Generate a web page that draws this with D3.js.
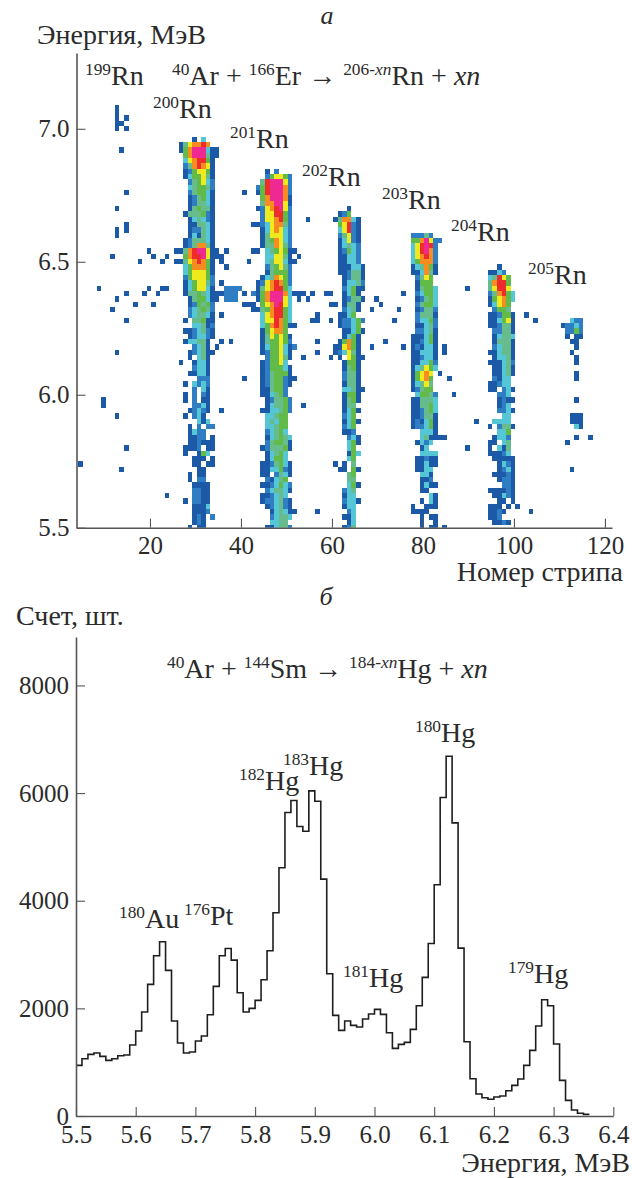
<!DOCTYPE html>
<html>
<head>
<meta charset="utf-8">
<script src="https://cdn.jsdelivr.net/npm/d3@7"></script>
<style>
  html, body { margin: 0; padding: 0; background: #fff; }
  text { font-family: "Liberation Serif", serif; fill: #2b2b2b; }
</style>
</head>
<body>
<div id="chart"></div>
<script>
////////////////////////////////////////////////////////////////////////
// Panel a data: counts per strip and energy, as colour levels 1-9.
// Every band lists rows from its top energy down in 0.02 MeV steps,
// the first character of a row is the band's first strip, "." is empty.

let heatLevels = [1, 2, 3, 4, 5, 6, 7, 8, 9];
let heatColors = ["#1c5aa8", "#2f7dc2", "#55c6d6", "#66bc8c", "#62bb48",
                  "#eeea1e", "#f78d20", "#ee2c2c", "#ee2a92"];

let band200Strip = 26, band200Top = 6.96;
let band200Rows = [
  "...1.3...", "1467787..", "157999311", ".57999411", ".3678851.", ".2478761.",
  ".1256651.", ".1355641.", "..245632.", "..345542.", "..245531.", "..124531.",
  "..124431.", "..145441.", ".1444521.", "..134321.", "..114431.", "..122431.",
  "..131431.", ".1244431.", ".1247741.", "147899611", ".57889611", "14678751.",
  ".3577751.", ".3566651.", ".2566652.", ".1356642.", ".1356631.", ".1445431.",
  "..145531.", "..125452.", "..234542.", "..234431.", ".1.44511.", "...33412.",
  ".1123421.", "..123321.", ".133441..", "...2341..", "..123411.", "..1.341..",
  "...1331..", "...2331..", "..11331..", "....222..", ".1.3232..", "...2.31..",
  ".1.2.21..", ".1.2.11..", "...2231..", "..12321..", ".1.231...", "....313..",
  "..1.2.22.", "..1322...", "..1122.1.", "..112111.", ".1112.11.", ".1..153..",
  "...111.1.", "...11.11.", "....11...", "..1.11...", "..1.22...", "...1111..",
  "...2211..", "...2211..", ".1.2211..", "...1113..", "...1112..", "...121.2.",
  "...121...", "..1.11..."
];

let band201Strip = 43, band201Top = 6.84;
let band201Rows = [
  "..1.2....", "..256652.", ".4899962.", "25899972.", "15899972.", ".5799971.",
  ".4779961.", "12678962.", ".2668852.", ".2667852.", "12367742.", ".1367632.",
  ".1466632.", ".1457632.", ".1447642.", "1.3456511", "..336641.", "..3466311",
  "..245642.", "..145552.", ".1347652.", "12678752.", "14678853.", "157999731",
  "15799963.", ".5679863.", "14578853.", ".3678853.", ".3668753.", ".35787511",
  ".156775..", ".1465651.", ".1455652.", ".1355631.", ".1255631.", "..255641.",
  ".125563..", ".1255531.", ".1245551.", ".12455211", ".1245521.", ".114552..",
  ".113452..", "..124452.", "..134452.", ".1133452.", "..33455..", "..34355..",
  "..33455..", "..23453..", "..134543.", "..245541.", ".1244451.", "..13453..",
  "..13553..", ".1124531.", ".1133521.", ".11.2431.", "..21345..", ".1123532.",
  "..234431.", ".112343..", ".1223421.", "..123421.", "...134311", "...23443.",
  "...3344..", "..113442."
];

let band202Strip = 60, band202Top = 6.70;
let band202Rows = [
  "...1....", ".125....", "147731..", ".56821..", ".36821..", ".24621..",
  ".13621..", ".13432..", ".12532..", ".11332..", ".11332..", ".111331.",
  ".112441.", "..12441.", "..13342.", "..2351..", "..1351..", "..12441.",
  "..1441..", "..2341..", ".1135...", ".122352.", ".12235..", "..11351.",
  "..1351..", ".15751..", ".16751..", ".23641..", ".1.651..", "..1551..",
  "..1451..", "..2441..", "..2441..", "..1441..", "..3341..", "..1551..",
  "..1451..", "..144...", "..1351..", "..235...", "..1351..", "..235...",
  "..112...", "...231..", "...351..", "...35...", "...153..", "...35...",
  "..1.4...", ".11.51..", "...45...", "...44...", "...351..", "..234...",
  "..133...", "..2331..", "..133...", "...23...", "..113...", "...13...",
  "..124..."
];

let band203Strip = 77, band203Top = 6.60;
let band203Rows = [
  "22242...", "5579622.", "368982..", "368972..", "367872..", "357772..",
  "134751..", "113741..", ".2465...", ".1555...", ".14553..", ".23553..",
  ".12453..", ".24553..", ".12442..", ".24443..", ".23352..", ".11342..",
  ".22341..", "111351..", "112351..", "121331..", "113331..", "112331..",
  "113352..", "134653..", "15676...", "15675...", "13464...", "12455...",
  ".35542..", "114443..", "114453..", "112453..", "112441..", "121351..",
  "122351..", "..3331..", "..341111", ".1323...", "..13....", "..3333..",
  ".11211..", ".11311..", ".1133...", "..331...", "..112...", "..1311..",
  "..11....", "....31..", "..1.31..", "1..111..", "1111....", "..1.11..",
  "..1..1..", "..1.11.."
];

let band204Strip = 94, band204Top = 6.48;
let band204Rows = [
  "..1....", "1132...", "34865..", "47885..", "46886..", "247853.", "156753.",
  "13675..", ".2554..", "112551.", "113561.", "112441.", ".22441.", ".13443.",
  ".14441.", ".23441.", "113441.", ".13341.", "111342.", ".11341.", ".11341.",
  ".2133..", "11233..", "11.231.", "..223..", "..1211.", "..123..", "..2231.",
  "...33..", ".3333..", "1.2441.", "..335..", ".1332..", "11.34..", "1.314..",
  "11123..", ".11111.", "..1321.", "..1231.", ".11121.", "..1221.", "...221.",
  "111121.", ".11321.", "..11.1.", "111.1..", "1121...", "112....", ".1121.."
];

let band205Strip = 110, band205Top = 6.28;
let band205Rows = [
  "..322..", "12232..", ".2252..", ".1.11..", "..11...", "...1...", "..1....",
  "...1...", "...1...", ".......", "...1...", "...1...", ".......", ".......",
  ".......", "...1...", ".......", ".......", "..111..", "..111..", "...31..",
  ".......", "...1..1", ".1.....", ".......", ".......", ".......", ".......",
  "..1...."
];

// isolated counts outside the bands, [strip, energy]
let sparseDark = [
  [12,7.08],[12,7.06],[12,7.04],[14,7.04],[12,7.02],[13,7.02],[12,7.00],[14,7.00],
  [13,6.92],[14,6.76],[40,6.76],[12,6.70],[54,6.66],[14,6.64],[42,6.64],[14,6.62],
  [12,6.62],[12,6.60],[19,6.54],[25,6.54],[36,6.54],[42,6.54],[11,6.52],[20,6.52],
  [23,6.52],[35,6.52],[52,6.52],[17,6.50],[22,6.50],[25,6.50],[35,6.50],[41,6.50],
  [36,6.48],[35,6.42],[8,6.40],[19,6.40],[22,6.40],[23,6.40],[66,6.40],[89,6.40],
  [14,6.38],[18,6.38],[21,6.38],[34,6.38],[35,6.38],[40,6.38],[52,6.38],[53,6.38],
  [55,6.38],[58,6.38],[59,6.38],[75,6.38],[12,6.36],[34,6.36],[52,6.36],[54,6.36],
  [69,6.36],[16,6.34],[20,6.34],[40,6.34],[41,6.34],[42,6.34],[59,6.34],[60,6.34],
  [70,6.34],[11,6.32],[42,6.32],[68,6.32],[74,6.32],[35,6.30],[56,6.30],[82,6.30],
  [102,6.30],[14,6.28],[55,6.28],[56,6.28],[59,6.28],[73,6.28],[104,6.28],[35,6.20],
  [37,6.20],[56,6.20],[71,6.20],[34,6.18],[60,6.18],[68,6.18],[75,6.18],[84,6.18],
  [12,6.16],[56,6.16],[60,6.16],[84,6.16],[53,6.14],[59,6.14],[66,6.14],[26,6.12],
  [83,6.08],[40,6.06],[85,6.06],[66,6.02],[86,6.00],[9,5.98],[9,5.96],[53,5.96],
  [35,5.94],[12,5.92],[91,5.90],[14,5.80],[89,5.80],[4,5.74],[60,5.74],[13,5.72],
  [23,5.62],[100,5.58],[56,5.56],[103,5.56],[84,5.50]
];
let sparseMid = [
  [36,6.40],[37,6.40],[38,6.40],[39,6.40],[36,6.38],[37,6.38],[38,6.38],[42,6.38],
  [36,6.36],[37,6.36],[38,6.36],[51,6.18]
];

let stripTicks = [20, 40, 60, 80, 100, 120];
let energyTicksA = [5.5, 6.0, 6.5, 7.0];

// isotope labels for panel a: mass, symbol, left, baseline
let isotopesA = [
  ["199", "Rn", 85, 85], ["200", "Rn", 153, 118], ["201", "Rn", 230, 148],
  ["202", "Rn", 302, 186], ["203", "Rn", 382, 209], ["204", "Rn", 451, 241],
  ["205", "Rn", 528, 284]
];

////////////////////////////////////////////////////////////////////////
// Panel b data: spectrum in 0.01 MeV bins starting at 5.50 MeV

let spectrumStart = 5.5;
let spectrumStep = 0.01;
let spectrumCounts = [
  941, 1065, 1145, 1170, 1108, 1034, 1065, 1120, 1133, 1318,
  1578, 1931, 2445, 2977, 3237, 2705, 1764, 1356, 1170, 1188,
  1393, 1486, 1882, 2408, 2977, 3113, 2897, 2290, 1931, 2000,
  2148, 2532, 3070, 3776, 4612, 5639, 5862, 5379, 5292, 6041,
  5849, 4401, 2643, 1869, 1591, 1764, 1684, 1653, 1801, 1894,
  1981, 1888, 1548, 1257, 1331, 1368, 1609, 2049, 2575, 3206,
  4296, 5918, 6685, 5447, 3120, 1380, 693, 409, 340, 310,
  353, 371, 470, 569, 687, 941, 1219, 1671, 2160, 2049,
  1337, 662, 291, 111, 50, 31
];

let countTicks = [0, 2000, 4000, 6000, 8000];
let energyTicksB = [5.5, 5.6, 5.7, 5.8, 5.9, 6.0, 6.1, 6.2, 6.3, 6.4];

let isotopesB = [
  ["180", "Au", 119, 928], ["176", "Pt", 184, 925], ["182", "Hg", 239, 790],
  ["183", "Hg", 283, 775], ["181", "Hg", 343, 987], ["180", "Hg", 415, 742],
  ["179", "Hg", 508, 983]
];

////////////////////////////////////////////////////////////////////////
// Setup

let width = 632;
let height = 1178;
let axisColor = "#555";
let labelSize = 28;
let tickSize = 25;

let svg = d3.select("#chart")
  .append("svg")
  .attr("width", width).attr("height", height)
  .style("display", "block");

// pieces are [text, style], style is "sup", "supi", "i" or nothing
function addRichText(x, y, pieces) {
  let text = svg.append("text")
    .attr("x", x).attr("y", y)
    .attr("font-size", labelSize);
  let shift = 0;
  pieces.forEach(function(p) {
    let isSup = p[1] === "sup" || p[1] === "supi";
    let rise = isSup ? -10 : 0;
    text.append("tspan")
      .attr("dy", rise - shift)
      .attr("font-size", isSup ? labelSize * 0.62 : labelSize)
      .attr("font-style", (p[1] === "i" || p[1] === "supi") ? "italic" : "normal")
      .attr("xml:space", "preserve")
      .text(p[0]);
    shift = rise;
  });
}

function addIsotope(d) {
  addRichText(d[2], d[3], [[d[0], "sup"], [d[1]]]);
}

function styleAxis(g) {
  g.selectAll(".domain").attr("stroke", axisColor).attr("stroke-width", 1.6);
  g.selectAll(".tick line").attr("stroke", axisColor).attr("stroke-width", 1.1);
  g.selectAll(".tick text")
    .attr("font-family", "Liberation Serif")
    .attr("font-size", tickSize)
    .attr("fill", "#2b2b2b");
}

////////////////////////////////////////////////////////////////////////
// Panel a

let xStrip = d3.scaleLinear().domain([3.85, 121.55]).range([76.5, 612]);
let yEnergy = d3.scaleLinear().domain([5.5, 7.285]).range([527.7, 53]);
let heatColor = d3.scaleOrdinal().domain(heatLevels).range(heatColors);

// turn the bands and the sparse lists into one list of cells
let cells = [];
function addBand(firstStrip, topEnergy, rows) {
  rows.forEach(function(row, i) {
    row.split("").forEach(function(ch, j) {
      if (ch !== ".") {
        cells.push({ strip: firstStrip + j, energy: topEnergy - 0.02 * i, level: +ch });
      }
    });
  });
}
addBand(band200Strip, band200Top, band200Rows);
addBand(band201Strip, band201Top, band201Rows);
addBand(band202Strip, band202Top, band202Rows);
addBand(band203Strip, band203Top, band203Rows);
addBand(band204Strip, band204Top, band204Rows);
addBand(band205Strip, band205Top, band205Rows);
sparseDark.forEach(function(d) { cells.push({ strip: d[0], energy: d[1], level: 1 }); });
sparseMid.forEach(function(d) { cells.push({ strip: d[0], energy: d[1], level: 2 }); });

svg.append("clipPath").attr("id", "plotA")
  .append("rect")
  .attr("x", xStrip(3.85)).attr("y", yEnergy(7.285))
  .attr("width", xStrip(121.55) - xStrip(3.85))
  .attr("height", yEnergy(5.5) - yEnergy(7.285));

svg.append("g")
  .attr("clip-path", "url(#plotA)")
  .selectAll("rect")
  .data(cells)
  .enter()
  .append("rect")
  .attr("x", function(d) { return xStrip(d.strip + 0.28); })
  .attr("y", function(d) { return yEnergy(d.energy + 0.01); })
  .attr("width", function(d) { return xStrip(d.strip + 1.28) - xStrip(d.strip + 0.28); })
  .attr("height", function(d) { return yEnergy(d.energy - 0.01) - yEnergy(d.energy + 0.01); })
  .attr("shape-rendering", "crispEdges")
  .attr("fill", function(d) { return heatColor(d.level); });

svg.append("g")
  .attr("transform", "translate(0,527.7)")
  .call(d3.axisBottom(xStrip).tickValues(stripTicks).tickFormat(d3.format("d"))
    .tickSizeInner(-9).tickSizeOuter(0).tickPadding(9))
  .call(styleAxis);

svg.append("g")
  .attr("transform", "translate(76.5,0)")
  .call(d3.axisLeft(yEnergy).tickValues(energyTicksA).tickFormat(d3.format(".1f"))
    .tickSizeInner(-9).tickSizeOuter(0).tickPadding(7))
  .call(styleAxis);

isotopesA.forEach(addIsotope);
addRichText(172, 85, [["40", "sup"], ["Ar + "], ["166", "sup"], ["Er \u2192 "],
  ["206-", "sup"], ["xn", "supi"], ["Rn + "], ["xn", "i"]]);

svg.append("text").attr("x", 327).attr("y", 24).attr("font-size", 26)
  .attr("font-style", "italic").attr("text-anchor", "middle").text("а");
svg.append("text").attr("x", 37).attr("y", 44).attr("font-size", labelSize).text("Энергия, МэВ");
svg.append("text").attr("x", 623).attr("y", 581).attr("font-size", labelSize)
  .attr("text-anchor", "end").text("Номер стрипа");

////////////////////////////////////////////////////////////////////////
// Panel b

let xSpec = d3.scaleLinear().domain([5.5, 6.4]).range([76, 613.3]);
let ySpec = d3.scaleLinear().domain([0, 8900]).range([1116, 637]);

// one extra point closes the last step
let spectrumLine = d3.line()
  .x(function(d, i) { return xSpec(spectrumStart + spectrumStep * i); })
  .y(function(d) { return ySpec(d); })
  .curve(d3.curveStepAfter);

svg.append("path")
  .datum(spectrumCounts.concat(spectrumCounts[spectrumCounts.length - 1]))
  .attr("d", spectrumLine)
  .attr("fill", "none")
  .attr("stroke", "#1e1e1e")
  .attr("stroke-width", 1.6);

svg.append("g")
  .attr("transform", "translate(0,1116)")
  .call(d3.axisBottom(xSpec).tickValues(energyTicksB).tickFormat(d3.format(".1f"))
    .tickSizeInner(-9).tickSizeOuter(0).tickPadding(9))
  .call(styleAxis);

svg.append("g")
  .attr("transform", "translate(76,0)")
  .call(d3.axisLeft(ySpec).tickValues(countTicks).tickFormat(d3.format("d"))
    .tickSizeInner(-9).tickSizeOuter(0).tickPadding(7))
  .call(styleAxis);

isotopesB.forEach(addIsotope);
addRichText(167, 678, [["40", "sup"], ["Ar + "], ["144", "sup"], ["Sm \u2192 "],
  ["184-", "sup"], ["xn", "supi"], ["Hg + "], ["xn", "i"]]);

svg.append("text").attr("x", 326).attr("y", 605).attr("font-size", 26)
  .attr("font-style", "italic").attr("text-anchor", "middle").text("б");
svg.append("text").attr("x", 16).attr("y", 625).attr("font-size", labelSize).text("Счет, шт.");
svg.append("text").attr("x", 630).attr("y", 1172).attr("font-size", labelSize)
  .attr("text-anchor", "end").text("Энергия, МэВ");
</script>
</body>
</html>
